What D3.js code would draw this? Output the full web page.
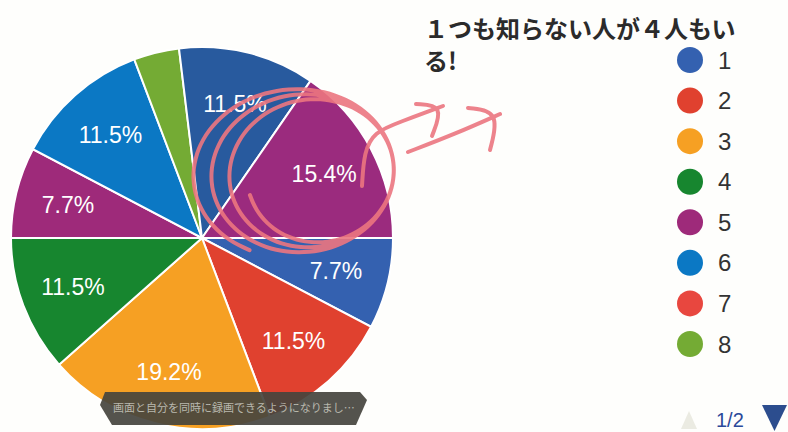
<!DOCTYPE html>
<html lang="ja">
<head>
  <meta charset="UTF-8">
  <title>Pie chart</title>
  <script src="https://d3js.org/d3.v7.min.js"></script>
  <style>
    body {
      margin: 0;
      background: #fefefc;
      font-family: 'Liberation Sans', Arial, sans-serif;
    }
    svg { display: block; }
    .slice-label { fill: #fff; font-size: 23px; }
    .legend-label { fill: #333; font-size: 24px; }
  </style>
</head>
<body>
  <svg width="788" height="432"></svg>

  <script>
    // answers (26 responses); 9 and 10 live on legend page 2
    const categories = ["1", "2", "3", "4", "5", "6", "7", "8", "9", "10"];
    const counts     = [2, 3, 5, 3, 2, 3, 0, 1, 3, 4];
    const colors     = ["#3461b0", "#e0412f", "#f6a023", "#17862f", "#9e2a7a",
                        "#0b78c4", "#e8473f", "#74ab34", "#285a9e", "#9b2b7e"];
    const legendShown = 8;

    const title = ["１つも知らない人が４人もい", "る!"];

    const cx = 202, cy = 238, radius = 191;

    const svg = d3.select("svg");

    const data = categories.map((c, i) => ({ name: c, value: counts[i], color: colors[i] }));
    const total = d3.sum(counts);

    // slices start at 3 o'clock, clockwise
    const pie = d3.pie()
      .sort(null)
      .value(d => d.value)
      .startAngle(Math.PI / 2)
      .endAngle(Math.PI / 2 + 2 * Math.PI);

    const arc = d3.arc().innerRadius(0).outerRadius(radius);
    const labelArc = d3.arc().innerRadius(138).outerRadius(138);

    const arcs = pie(data).filter(d => d.data.value > 0);

    const g = svg.append("g").attr("transform", `translate(${cx},${cy})`);

    g.selectAll("path.slice")
      .data(arcs)
      .enter().append("path")
      .attr("class", "slice")
      .attr("d", arc)
      .attr("fill", d => d.data.color)
      .attr("stroke", "#fff")
      .attr("stroke-width", 2);

    g.selectAll("text.slice-label")
      .data(arcs.filter(d => d.data.value / total > 0.05))
      .enter().append("text")
      .attr("class", "slice-label")
      .attr("transform", d => `translate(${labelArc.centroid(d)})`)
      .attr("text-anchor", "middle")
      .attr("dy", "0.35em")
      .text(d => (d.data.value / total * 100).toFixed(1) + "%");

    // hand-drawn pink loops + arrows over the 15.4% slice
    const pen = svg.append("g")
      .attr("fill", "none")
      .attr("stroke", "#ec7680")
      .attr("stroke-width", 4)
      .attr("stroke-linecap", "round")
      .attr("stroke-linejoin", "round")
      .attr("opacity", 0.9);

    const loopPts = [];
    const turns = 3;
    for (let t = 0; t <= turns * 2 * Math.PI + 0.9; t += 0.12) {
      const k = t / (2 * Math.PI);
      const rx = 102 - 9 * k;
      const ry = 86 - 5 * k;
      const ox = 292 + 9 * k;
      const oy = 172 + 2 * Math.sin(t);
      const a = t + 2.0;
      loopPts.push([ox + rx * Math.cos(a), oy + ry * Math.sin(a)]);
    }
    const pencil = d3.line().curve(d3.curveBasis);
    pen.append("path").attr("d", pencil(loopPts));

    const strokes = [
      [[362, 186], [364, 152], [374, 132], [400, 122], [443, 106]],
      [[416, 104], [444, 105], [432, 136]],
      [[408, 152], [455, 134], [500, 114]],
      [[468, 108], [500, 111], [490, 150]]
    ];
    strokes.forEach(s => pen.append("path").attr("d", pencil(s)));

    // title
    const titleText = svg.append("text")
      .attr("x", 424)
      .attr("y", 38)
      .attr("font-family", "'Noto Sans CJK JP', sans-serif")
      .attr("font-weight", "bold")
      .attr("font-size", 24)
      .attr("fill", "#2b2b2b");
    title.forEach((line, i) => {
      titleText.append("tspan")
        .attr("x", 424)
        .attr("dy", i === 0 ? 0 : 32)
        .text(line);
    });

    // legend (page 1)
    const ly = d3.scalePoint()
      .domain(categories.slice(0, legendShown))
      .range([60, 344]);

    const legend = svg.selectAll("g.legend")
      .data(data.slice(0, legendShown))
      .enter().append("g")
      .attr("class", "legend")
      .attr("transform", d => `translate(690,${ly(d.name)})`);

    legend.append("circle")
      .attr("r", 13)
      .attr("fill", d => d.color);

    legend.append("text")
      .attr("class", "legend-label")
      .attr("x", 28)
      .attr("dy", "0.36em")
      .text(d => d.name);

    // pager
    svg.append("path")
      .attr("d", "M681,429 L689,411 L697,429 Z")
      .attr("fill", "#ebebe2");
    svg.append("text")
      .attr("x", 716)
      .attr("y", 427)
      .attr("font-size", 20)
      .attr("fill", "#2b4a9a")
      .text("1/2");
    svg.append("path")
      .attr("d", "M762,405 L787,405 L774.5,431 Z")
      .attr("fill", "#2c4d8e");

    // video toast over the bottom of the pie
    svg.append("path")
      .attr("d", "M105,392 L360,392 L367,400 L356,425 L112,425 L100,405 Z")
      .attr("fill", "#45443e")
      .attr("opacity", 0.92);
    svg.append("text")
      .attr("x", 113)
      .attr("y", 412)
      .attr("font-family", "'Noto Sans CJK JP', sans-serif")
      .attr("font-size", 11)
      .attr("fill", "#b9b8ae")
      .text("画面と自分を同時に録画できるようになりまし…");
  </script>
</body>
</html>
